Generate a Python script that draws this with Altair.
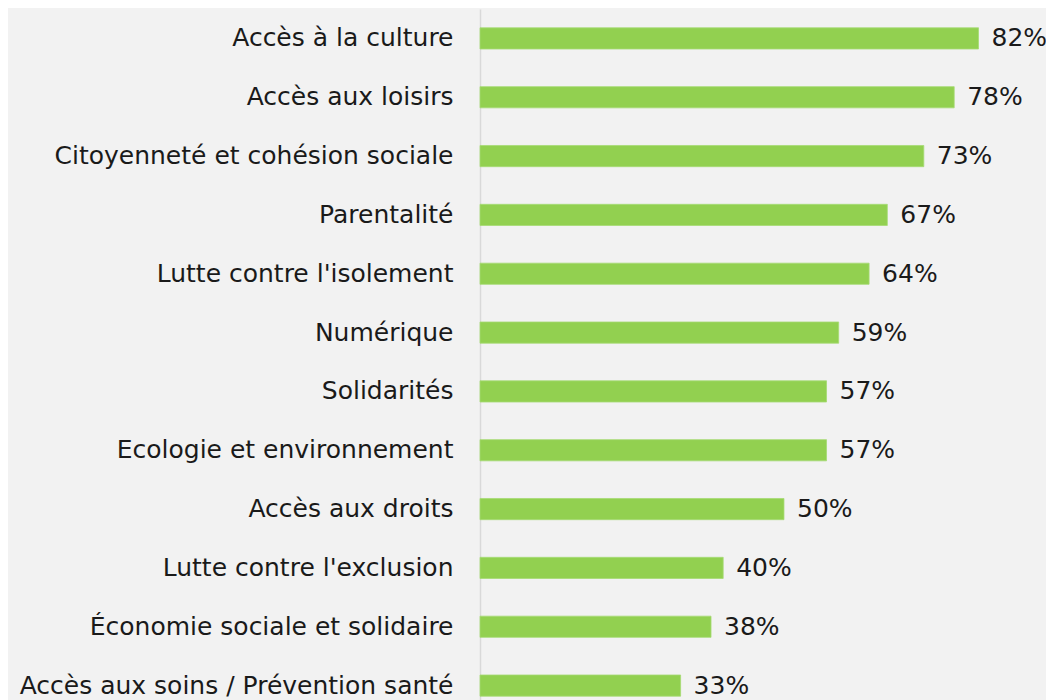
import altair as alt
import pandas as pd

categories = [
    "Accès à la culture",
    "Accès aux loisirs",
    "Citoyenneté et cohésion sociale",
    "Parentalité",
    "Lutte contre l'isolement",
    "Numérique",
    "Solidarités",
    "Ecologie et environnement",
    "Accès aux droits",
    "Lutte contre l'exclusion",
    "Économie sociale et solidaire",
    "Accès aux soins / Prévention santé",
]
values = [82, 78, 73, 67, 64, 59, 57, 57, 50, 40, 38, 33]
labels = [f"{v}%" for v in values]

df = pd.DataFrame({"cat": categories, "val": values, "lab": labels})

FONT = "DejaVu Sans"
FS = 25

y = alt.Y(
    "cat:N",
    sort=categories,
    title=None,
    scale=alt.Scale(range=[0, 706], paddingInner=0.64, paddingOuter=0.32),
    axis=alt.Axis(
        ticks=False,
        tickSize=0,
        labelPadding=27,
        labelFontSize=FS,
        labelFont=FONT,
        labelColor="#1a1a1a",
        labelLimit=0,
        domainColor="#d9d9d9",
        domainWidth=1.5,
        minExtent=472,
        maxExtent=472,
    ),
)
x = alt.X(
    "val:Q",
    title=None,
    scale=alt.Scale(domain=[0, 93.1], nice=False),
    axis=None,
)

bars = alt.Chart(df).mark_bar(color="#92D050", stroke="#a6da74", strokeWidth=0.8).encode(x=x, y=y)
text = alt.Chart(df).mark_text(
    align="left", baseline="middle", dx=13, fontSize=FS, font=FONT, color="#1a1a1a"
).encode(x=x, y=y, text="lab:N")

chart = (
    alt.layer(bars, text)
    .properties(
        width=566,
        height=691,
        background="#f2f2f2",
        padding={"left": 472, "top": 1, "right": 0, "bottom": 0},
        autosize=alt.AutoSizeParams(type="none"),
    )
    .configure_view(stroke=None)
    .configure_axis(grid=False)
)

chart.save("out.html", embed_options={"renderer": "svg", "actions": False})
